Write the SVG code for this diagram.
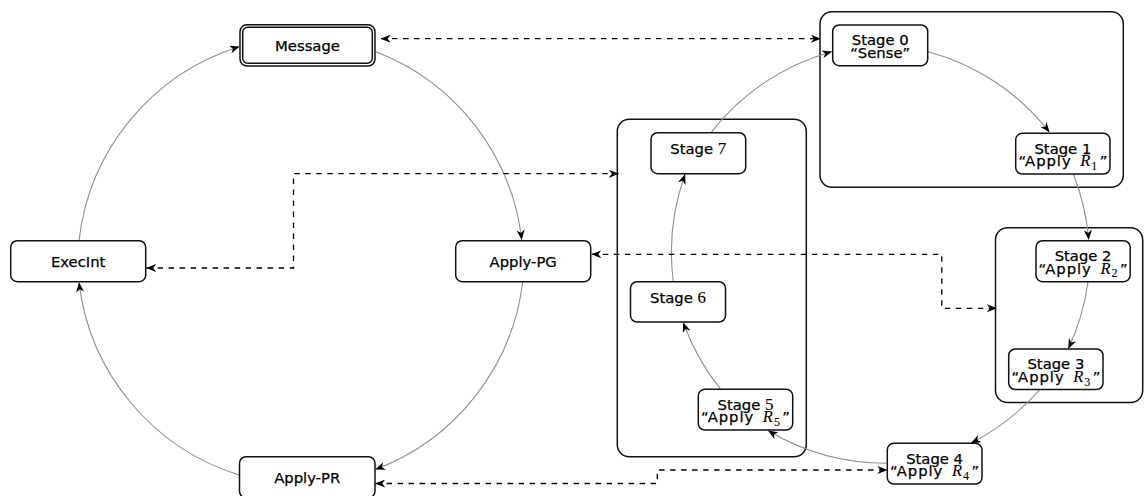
<svg xmlns="http://www.w3.org/2000/svg" width="1144" height="496" viewBox="0 0 1144 496">
<defs>
<marker id="ah" viewBox="0 0 10 8" refX="9.6" refY="4" markerWidth="10" markerHeight="8" orient="auto-start-reverse" markerUnits="userSpaceOnUse">
<path d="M0,0 L10,4 L0,8 L3,4 Z" fill="#000"/>
</marker>
<style>
.nd rect{fill:#fff;stroke:#111;stroke-width:1.5}
.box{fill:none;stroke:#111;stroke-width:1.5}
.t{font-family:"DejaVu Sans",sans-serif;font-size:14.8px;text-anchor:middle;fill:#000;stroke:#000;stroke-width:0.25}
.m{font-family:"Liberation Serif",serif;font-style:italic;font-size:16.5px;stroke-width:0.1}
.n{font-family:"Liberation Serif",serif;font-size:17px;stroke-width:0.1}
.sb{font-family:"Liberation Serif",serif;font-size:12px;font-style:normal;stroke-width:0.1}
.arc{fill:none;stroke:#8f8f8f;stroke-width:1.1;marker-end:url(#ah)}
.dash{fill:none;stroke:#000;stroke-width:1.3;stroke-dasharray:5.5 5.5;marker-start:url(#ah);marker-end:url(#ah)}
</style>
</defs>
<rect width="1144" height="496" fill="#fff"/>

<g id="containers">
<rect id="groupA" class="box" x="820" y="11.7" width="303.3" height="175.6" rx="12"/>
<rect id="groupB" class="box" x="995.5" y="227.7" width="147.2" height="174.8" rx="12"/>
<rect id="groupC" class="box" x="617.3" y="119.3" width="189" height="337.4" rx="12"/>
</g>

<g id="connectors">
<path class="arc" d="M79,240.7 A230,230 0 0 1 239.3,46.7"/>
<path class="arc" d="M376,51.7 A230,230 0 0 1 521.7,239.5"/>
<path class="arc" d="M522.7,281.7 A230,230 0 0 1 375.6,469.3"/>
<path class="arc" d="M239.2,475 A230,230 0 0 1 79,282.6"/>
<path class="arc" d="M711,132.7 A230,230 0 0 1 831.7,51.7"/>
<path class="arc" d="M928.3,51.7 A230,230 0 0 1 1049.3,132"/>
<path class="arc" d="M1073.3,174 A230,230 0 0 1 1088.7,239.5"/>
<path class="arc" d="M1088,282 A230,230 0 0 1 1068.4,348.5"/>
<path class="arc" d="M1040,389.3 A230,230 0 0 1 971.3,443"/>
<path class="arc" d="M886.3,463.3 A230,230 0 0 1 768.3,430.8"/>
<path class="arc" d="M720.7,389.3 A230,230 0 0 1 683.3,322.8"/>
<path class="arc" d="M673.3,281.7 A230,230 0 0 1 685,174.5"/>
<path class="dash" d="M381,38.7 L820.5,38.7"/>
<path class="dash" d="M146.6,268 L293.5,268 L293.5,173.7 L618.5,173.7"/>
<path class="dash" d="M591.8,254.3 L941.8,254.3 L941.8,308.3 L996.5,308.3"/>
<path class="dash" d="M375.6,483.5 L657.3,483.5 L657.3,470 L887,470"/>
</g>

<g id="message" class="nd">
<rect x="240" y="24.7" width="135" height="41.3" rx="7"/>
<rect x="242.7" y="27.3" width="129.6" height="36" rx="5"/>
<text class="t" x="307.5" y="51.3">Message</text>
</g>
<g id="execint" class="nd">
<rect x="10.7" y="240.7" width="135" height="41" rx="6.5"/>
<text class="t" x="78.2" y="267.3">ExecInt</text>
</g>
<g id="applypg" class="nd">
<rect x="455.7" y="240.7" width="135" height="41" rx="6.5"/>
<text class="t" x="523.2" y="267.3">Apply-PG</text>
</g>
<g id="applypr" class="nd">
<rect x="239.5" y="456.7" width="135.5" height="41" rx="6.5"/>
<text class="t" x="307.2" y="483">Apply-PR</text>
</g>

<g id="stage0" class="nd">
<rect x="832.7" y="25" width="95" height="40.7" rx="6.5"/>
<text class="t" x="880.2" y="45.4">Stage 0<tspan x="880.2" dy="12.6">“Sense”</tspan></text>
</g>
<g id="stage1" class="nd">
<rect x="1015.7" y="133.3" width="94.3" height="40.7" rx="6.5"/>
<text class="t" x="1062.9" y="153.6">Stage 1<tspan x="1062.9" dy="12.7" textLength="89" lengthAdjust="spacing">“Apply <tspan class="m" dx="3">R</tspan><tspan class="sb" dy="3.5">1</tspan><tspan dy="-3.5" dx="1.5">”</tspan></tspan></text>
</g>
<g id="stage2" class="nd">
<rect x="1036" y="240.7" width="94.2" height="41" rx="6.5"/>
<text class="t" x="1083.1" y="261">Stage 2<tspan x="1083.1" dy="12.7" textLength="89" lengthAdjust="spacing">“Apply <tspan class="m" dx="3">R</tspan><tspan class="sb" dy="3.5">2</tspan><tspan dy="-3.5" dx="1.5">”</tspan></tspan></text>
</g>
<g id="stage3" class="nd">
<rect x="1008.7" y="349" width="94.3" height="40.5" rx="6.5"/>
<text class="t" x="1055.9" y="369.3">Stage 3<tspan x="1055.9" dy="12.7" textLength="89" lengthAdjust="spacing">“Apply <tspan class="m" dx="3">R</tspan><tspan class="sb" dy="3.5">3</tspan><tspan dy="-3.5" dx="1.5">”</tspan></tspan></text>
</g>
<g id="stage4" class="nd">
<rect x="887.3" y="443.3" width="94.7" height="40.7" rx="6.5"/>
<text class="t" x="934.6" y="463.6">Stage 4<tspan x="934.6" dy="12.7" textLength="89" lengthAdjust="spacing">“Apply <tspan class="m" dx="3">R</tspan><tspan class="sb" dy="3.5">4</tspan><tspan dy="-3.5" dx="1.5">”</tspan></tspan></text>
</g>
<g id="stage5" class="nd">
<rect x="698.3" y="389.3" width="94.4" height="40.7" rx="6.5"/>
<text class="t" x="745.5" y="409.6">Stage <tspan class="n">5</tspan><tspan x="745.5" dy="12.7" textLength="89" lengthAdjust="spacing">“Apply <tspan class="m" dx="3">R</tspan><tspan class="sb" dy="3.5">5</tspan><tspan dy="-3.5" dx="1.5">”</tspan></tspan></text>
</g>
<g id="stage6" class="nd">
<rect x="630.5" y="281.7" width="95" height="40.3" rx="6.5"/>
<text class="t" x="678" y="302.6">Stage <tspan class="n">6</tspan></text>
</g>
<g id="stage7" class="nd">
<rect x="651" y="132.7" width="94.7" height="41" rx="6.5"/>
<text class="t" x="698.3" y="153.6">Stage <tspan class="n">7</tspan></text>
</g>
</svg>
